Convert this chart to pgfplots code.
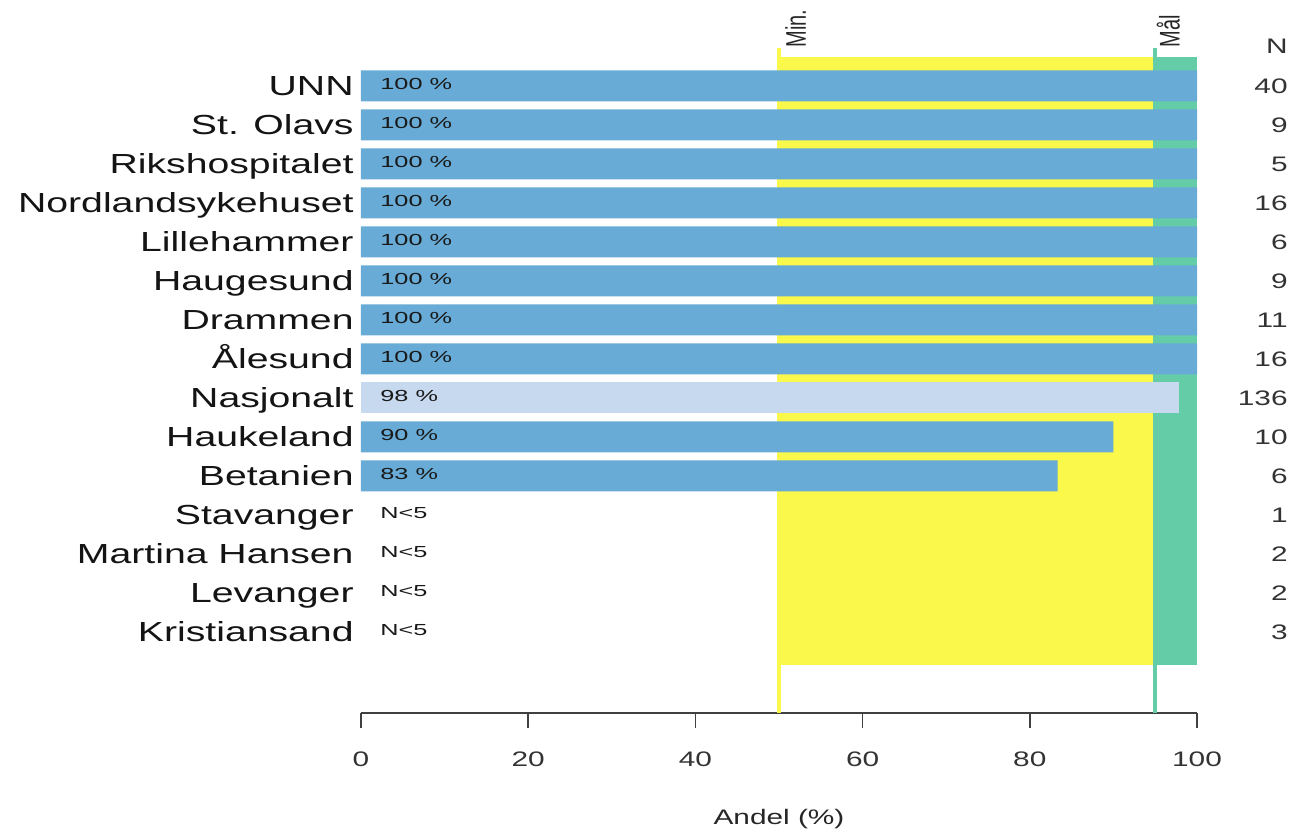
\documentclass[border=0pt]{standalone}
\usepackage{pgfplots}
\pgfplotsset{compat=1.18}
\usepackage{fontspec}
\usepackage{graphicx}
\setmainfont{Liberation Sans}[FakeStretch=1.42]
\newfontfamily\plainfont{Liberation Sans}
\newfontfamily\barfont{Liberation Sans}[FakeStretch=1.58]
\definecolor{barblue}{RGB}{104,171,214}
\definecolor{barlight}{RGB}{198,217,238}
\definecolor{minyellow}{RGB}{250,248,75}
\definecolor{goalgreen}{RGB}{100,205,168}
\begin{document}
\begin{tikzpicture}
\useasboundingbox (-180.5pt,-61pt) rectangle (466.5pt,356.5pt);
\begin{axis}[
  at={(0pt,0pt)}, anchor=south west, scale only axis,
  width=418pt, height=332.5pt,
  xmin=0, xmax=100, ymin=-1.077, ymax=15.974,
  clip=false,
  axis x line*=bottom, axis y line*=left,
  y axis line style={draw=none},
  x axis line style={line width=0.8pt, draw=black!75, -},
  xtick={0,20,40,60,80,100},
  tick align=outside,
  major tick length=7.5pt,
  xtick style={line width=0.8pt, draw=black!75},
  ytick style={draw=none},
  ytick={1,...,15},
  yticklabels={Kristiansand, Levanger, Martina Hansen, Stavanger, Betanien, Haukeland, Nasjonalt, Ålesund, Drammen, Haugesund, Lillehammer, Nordlandsykehuset, Rikshospitalet, St. Olavs, UNN},
  yticklabel style={font=\fontsize{13.8}{16}\selectfont, text=black!92, inner sep=0pt, anchor=base east, xshift=4pt, yshift=-4.9pt},
  xticklabel style={font=\fontsize{10.5}{12}\selectfont, text=black!80, anchor=north, inner sep=0pt, yshift=-11.5pt},
  /pgf/number format/assume math mode=true,
  xlabel={Andel (\%)},
  xlabel style={font=\fontsize{10.5}{12}\selectfont, text=black!85, at={(axis description cs:0.5,0)}, anchor=center, yshift=-53pt},
]
% target zones
\addplot[fill=minyellow, draw=none] coordinates {(50,0.154) (95,0.154) (95,15.744) (50,15.744)};
\addplot[fill=goalgreen, draw=none] coordinates {(95,0.154) (100,0.154) (100,15.744) (95,15.744)};
\addplot[minyellow, line width=2.2pt] coordinates {(50,-1.077) (50,15.974)};
\addplot[goalgreen, line width=2pt] coordinates {(95,-1.077) (95,15.974)};
% bars
\addplot[xbar, bar width=15.5pt, bar shift=0pt, fill=barblue, draw=none] coordinates {
 (83.33,5) (90,6) (100,8) (100,9) (100,10) (100,11) (100,12) (100,13) (100,14) (100,15)};
\addplot[xbar, bar width=15.5pt, bar shift=0pt, fill=barlight, draw=none] coordinates {(97.8,7)};
% value labels
\addplot[draw=none, nodes near coords, point meta=explicit symbolic,
  nodes near coords style={anchor=west, inner sep=0pt, xshift=9.5pt, yshift=1pt, font=\barfont\fontsize{8}{9}\selectfont, text=black!90}]
  coordinates {(0,1)[N<5] (0,2)[N<5] (0,3)[N<5] (0,4)[N<5] (0,5)[83 \%] (0,6)[90 \%] (0,7)[98 \%]
  (0,8)[100 \%] (0,9)[100 \%] (0,10)[100 \%] (0,11)[100 \%] (0,12)[100 \%] (0,13)[100 \%] (0,14)[100 \%] (0,15)[100 \%]};
% N column
\addplot[draw=none, nodes near coords, point meta=explicit symbolic,
  nodes near coords style={anchor=east, inner sep=0pt, xshift=45.5pt, font=\fontsize{10.5}{12}\selectfont, text=black!80}]
  coordinates {(100,1)[3] (100,2)[2] (100,3)[2] (100,4)[1] (100,5)[6] (100,6)[10] (100,7)[136]
  (100,8)[16] (100,9)[11] (100,10)[9] (100,11)[6] (100,12)[16] (100,13)[5] (100,14)[9] (100,15)[40] (100,16.03)[N]};
\node[anchor=south west, inner sep=0pt, xshift=3pt] at (axis cs:50,15.974)
  {\rotatebox{90}{\scalebox{1}[1.42]{\plainfont\fontsize{10}{12}\selectfont\color{black!85}Min.}}};
\node[anchor=south west, inner sep=0pt, xshift=0.5pt] at (axis cs:95,15.974)
  {\rotatebox{90}{\scalebox{1}[1.42]{\plainfont\fontsize{10}{12}\selectfont\color{black!85}Mål}}};
\end{axis}
\end{tikzpicture}
\end{document}
